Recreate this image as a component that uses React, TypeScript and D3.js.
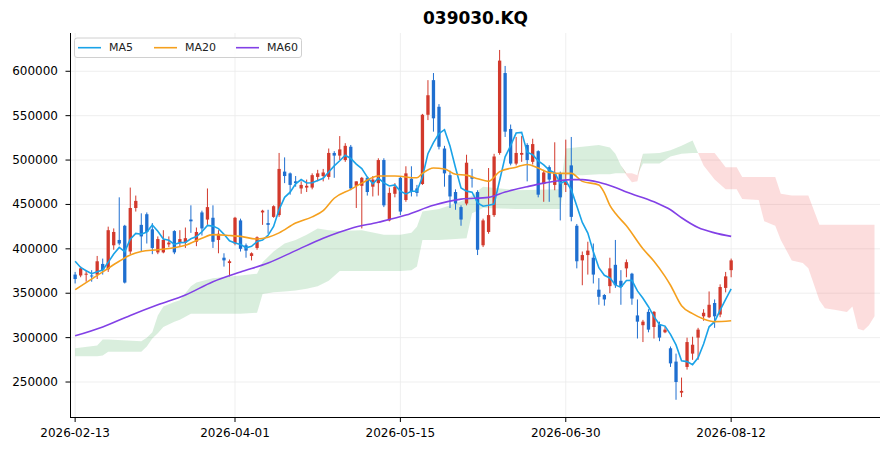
// 039030.KQ 日K线 + 均线 + 一目均衡云
import React, { useRef, useEffect } from 'react';
import * as d3 from 'd3';

const title = '039030.KQ';
const UNIT = 1000;

// x 轴刻度 (交易日序号) 与标签
const tickIndex = [0, 29, 59, 89, 119];
const tickLabels = ['2026-02-13', '2026-04-01', '2026-05-15', '2026-06-30', '2026-08-12'];
const yTicks = [250000, 300000, 350000, 400000, 450000, 500000, 550000, 600000];

// OHLC (单位: 千)
const opens = [
  371, 370, 371, 370, 371, 383, 377, 404, 410, 426,
  397, 446, 427, 439, 422, 396, 396, 405, 420, 407,
  407, 433, 408, 441, 433, 435, 410, 390, 384, 406,
  432, 404, 392, 401, 441, 429, 436, 438, 487, 485,
  476, 468, 469, 469, 481, 482, 481, 508, 505, 500,
  515, 471, 471, 480, 470, 474, 500, 432, 462, 480,
  455, 479, 468, 473, 551, 590, 560, 513, 483, 464,
  447, 451, 481, 464, 404, 419, 438, 508, 598, 535,
  496, 506, 517, 498, 510, 473, 492, 472, 485, 472,
  494, 426, 387, 393, 390, 354, 348, 358, 382, 364,
  378, 372, 325, 314, 329, 312, 315, 306, 288, 273,
  238, 267, 282, 300, 324, 323, 339, 326, 356, 376,
];
const highs = [
  374, 380, 376, 376, 392, 389, 425, 423, 458, 427,
  469, 460, 440, 441, 429, 414, 421, 414, 421, 421,
  424, 449, 424, 443, 468, 449, 421, 395, 388, 436,
  434, 406, 396, 414, 444, 444, 449, 508, 503, 486,
  482, 476, 478, 485, 489, 490, 513, 510, 527, 519,
  517, 476, 481, 481, 482, 502, 502, 469, 474, 481,
  493, 493, 472, 552, 590, 598, 563, 516, 488, 467,
  449, 506, 490, 466, 434, 491, 507, 624, 606, 540,
  526, 527, 519, 524, 511, 489, 494, 520, 487, 523,
  526, 428, 397, 408, 406, 367, 349, 390, 410, 376,
  388, 373, 343, 320, 332, 330, 318, 312, 290, 282,
  255, 300, 301, 311, 332, 352, 343, 360, 374, 389,
];
const lows = [
  361, 368, 363, 363, 366, 371, 374, 399, 404, 361,
  394, 442, 397, 406, 394, 394, 395, 402, 394, 402,
  401, 418, 403, 415, 427, 401, 395, 380, 369, 404,
  397, 390, 387, 399, 427, 417, 435, 436, 474, 461,
  470, 462, 464, 467, 476, 476, 478, 480, 500, 498,
  466, 446, 423, 460, 459, 460, 447, 431, 458, 438,
  453, 459, 459, 472, 545, 532, 512, 470, 446, 444,
  426, 449, 469, 393, 402, 417, 436, 506, 526, 494,
  494, 498, 476, 495, 458, 453, 453, 466, 432, 464,
  431, 378, 359, 371, 361, 337, 336, 350, 356, 337,
  368, 337, 299, 295, 306, 299, 296, 305, 267, 230,
  233, 264, 275, 275, 319, 322, 311, 323, 351, 368,
];
const closes = [
  366, 378, 372, 369, 386, 376, 421, 419, 406, 362,
  446, 454, 414, 419, 401, 411, 410, 407, 396, 411,
  412, 431, 419, 423, 447, 408, 417, 387, 386, 435,
  400, 398, 395, 413, 443, 427, 448, 490, 482, 472,
  474, 472, 471, 483, 485, 486, 508, 505, 512, 516,
  468, 476, 480, 464, 478, 500, 449, 463, 470, 442,
  485, 464, 463, 551, 573, 547, 515, 485, 459, 451,
  433, 497, 479, 399, 432, 438, 504, 612, 532, 496,
  508, 508, 500, 518, 461, 486, 478, 485, 458, 476,
  436, 386, 393, 398, 371, 346, 343, 378, 359, 357,
  385, 344, 318, 318, 309, 329, 300, 309, 271, 250,
  240, 295, 292, 309, 328, 337, 324, 357, 369, 387,
];
// 图表起点之前的 4 个收盘价 (用于 MA5)
const priorCloses = [413, 390, 386, 375];

// MA20 / MA60 读数
const ma20Idx = [0, 5, 8, 10, 12, 15, 20, 23, 25, 28, 30, 33, 35, 37, 40, 43, 45, 47, 50, 52, 55, 58, 62, 63, 65, 67, 69, 71, 73, 75, 77, 80, 82, 84, 86, 88, 90, 92, 95, 96, 97, 98, 100, 103, 105, 107, 108, 110, 112, 114, 116, 119];
const ma20Val = [354, 374, 386, 393, 397, 399, 404, 412, 416, 415, 414, 411, 413, 418, 429, 436, 443, 457, 467, 474, 482, 482, 480, 485, 491, 490, 484, 483, 479, 476, 487, 492, 495, 491, 486, 485, 485, 476, 472, 463, 449, 440, 426, 400, 386, 369, 359, 336, 327, 321, 318, 319];
const ma60Idx = [0, 5, 10, 15, 20, 25, 30, 35, 40, 45, 50, 55, 60, 65, 70, 75, 78, 82, 85, 88, 90, 92, 95, 98, 100, 105, 108, 110, 113, 116, 119];
const ma60Val = [302, 312, 325, 337, 348, 363, 374, 384, 398, 412, 423, 430, 438, 449, 456, 458, 464, 470, 474, 477, 478, 478, 475, 469, 464, 453, 444, 435, 424, 418, 414];

// 云 (先行 A / 先行 B, 已前移 26)
const cloudIdx = [0, 4, 5, 6, 12, 13, 14, 15, 16, 18, 19, 21, 22, 25, 30, 33, 34, 36, 38, 40, 42, 44, 46, 48, 52, 56, 59, 61, 62, 63, 66, 69, 71, 72, 74, 80, 88, 89, 92, 95, 97, 98, 99, 100, 101, 102, 103, 106, 108, 110, 112, 113, 114, 116, 118, 120, 121, 124, 125, 127, 128, 130, 132, 133, 135, 136, 138, 140, 141, 142, 143, 144, 145];
const spanA = [288, 291, 298, 298, 296, 300, 306, 325, 335, 340, 342, 358, 362, 367, 370, 372, 385, 397, 406, 410, 416, 423, 421, 420, 421, 416, 416, 418, 425, 442, 445, 451, 456, 460, 470, 466, 467, 513, 515, 517, 514, 507, 494, 483, 475, 476, 507, 508, 511, 516, 522, 508, 494, 478, 467, 467, 456, 455, 431, 426, 410, 387, 384, 378, 342, 333, 331, 329, 335, 310, 308, 314, 324];
const spanB = [279, 279, 280, 284, 284, 290, 299, 305, 312, 318, 320, 327, 327, 327, 327, 328, 349, 351, 352, 353, 355, 358, 364, 375, 375, 375, 375, 376, 380, 410, 410, 411, 412, 440, 446, 445, 445, 483, 483, 484, 484, 485, 485, 485, 485, 483, 496, 496, 504, 507, 508, 508, 508, 508, 492, 492, 481, 481, 481, 481, 462, 460, 460, 460, 427, 427, 427, 427, 427, 427, 427, 427, 427];

const width = 891;
const height = 451;
const plotLeft = 71;
const plotRight = 880;
const plotTop = 33;
const plotBottom = 417;

const UP = '#d2392c';
const DOWN = '#1f6fd0';
const FONT = 'DejaVu Sans';

const App: React.FC = () => {
  const svgRef = useRef<SVGSVGElement>(null);

  useEffect(() => {
    if (!svgRef.current) return;
    const svg = d3.select(svgRef.current);
    svg.selectAll('*').remove();

    const x = d3.scaleLinear().domain([-0.75, 146]).range([plotLeft, plotRight]);
    const y = d3.scaleLinear().domain([210600, 643100]).range([plotBottom, plotTop]);

    // 网格
    const grid = svg.append('g').attr('stroke', '#ebebeb').attr('stroke-width', 0.8);
    grid.selectAll('.vg').data(tickIndex).join('line')
      .attr('x1', (d) => x(d)).attr('x2', (d) => x(d))
      .attr('y1', plotTop).attr('y2', plotBottom);
    grid.selectAll('.hg').data(yTicks).join('line')
      .attr('x1', plotLeft).attr('x2', plotRight)
      .attr('y1', (d) => y(d)).attr('y2', (d) => y(d));

    // 云
    const cloud = cloudIdx.map((d, k) => ({ i: d, a: spanA[k] * UNIT, b: spanB[k] * UNIT }));
    const greenArea = d3.area<{ i: number; a: number; b: number }>()
      .x((d) => x(d.i))
      .y0((d) => y(d.b))
      .y1((d) => y(Math.max(d.a, d.b)));
    const redArea = d3.area<{ i: number; a: number; b: number }>()
      .x((d) => x(d.i))
      .y0((d) => y(d.a))
      .y1((d) => y(Math.max(d.a, d.b)));
    svg.append('path').attr('d', greenArea(cloud)).attr('fill', 'rgb(46,160,67)').attr('fill-opacity', 0.18);
    svg.append('path').attr('d', redArea(cloud)).attr('fill', 'rgb(239,68,68)').attr('fill-opacity', 0.18);

    // K 线
    const candles = opens.map((o, i) => ({
      i, o: o * UNIT, h: highs[i] * UNIT, l: lows[i] * UNIT, c: closes[i] * UNIT,
    }));
    const bw = (x(1) - x(0)) * 0.6;
    const cg = svg.append('g');
    cg.selectAll('.wick').data(candles).join('line')
      .attr('x1', (d) => x(d.i)).attr('x2', (d) => x(d.i))
      .attr('y1', (d) => y(d.h)).attr('y2', (d) => y(d.l))
      .attr('stroke', (d) => (d.c >= d.o ? UP : DOWN))
      .attr('stroke-width', 1);
    cg.selectAll('.body').data(candles).join('rect')
      .attr('x', (d) => x(d.i) - bw / 2)
      .attr('width', bw)
      .attr('y', (d) => y(Math.max(d.o, d.c)))
      .attr('height', (d) => Math.max(1, Math.abs(y(d.o) - y(d.c))))
      .attr('fill', (d) => (d.c >= d.o ? UP : DOWN));

    // 均线
    const all = priorCloses.concat(closes);
    const ma5 = closes.map((_, i) => ({ i, v: d3.mean(all.slice(i, i + 5))! * UNIT }));
    const ma20 = ma20Idx.map((d, k) => ({ i: d, v: ma20Val[k] * UNIT }));
    const ma60 = ma60Idx.map((d, k) => ({ i: d, v: ma60Val[k] * UNIT }));
    const lin = d3.line<{ i: number; v: number }>().x((d) => x(d.i)).y((d) => y(d.v));
    const smooth = d3.line<{ i: number; v: number }>().x((d) => x(d.i)).y((d) => y(d.v)).curve(d3.curveMonotoneX);
    svg.append('path').attr('d', lin(ma5)).attr('fill', 'none').attr('stroke', '#1aa3e8').attr('stroke-width', 1.6);
    svg.append('path').attr('d', smooth(ma20)).attr('fill', 'none').attr('stroke', '#f5a01e').attr('stroke-width', 1.6);
    svg.append('path').attr('d', smooth(ma60)).attr('fill', 'none').attr('stroke', '#8240e6').attr('stroke-width', 1.6);

    // 坐标轴
    const ax = svg.append('g').attr('font-family', FONT).attr('font-size', 12).attr('fill', '#000');
    ax.append('line').attr('x1', plotLeft - 0.5).attr('x2', plotLeft - 0.5).attr('y1', plotTop).attr('y2', plotBottom)
      .attr('stroke', '#000').attr('stroke-width', 1);
    ax.append('line').attr('x1', plotLeft - 1).attr('x2', plotRight).attr('y1', plotBottom + 0.5).attr('y2', plotBottom + 0.5)
      .attr('stroke', '#000').attr('stroke-width', 1);
    ax.selectAll('.yt').data(yTicks).join('line')
      .attr('x1', plotLeft - 5.5).attr('x2', plotLeft - 0.5)
      .attr('y1', (d) => y(d)).attr('y2', (d) => y(d)).attr('stroke', '#000');
    ax.selectAll('.yl').data(yTicks).join('text')
      .attr('x', plotLeft - 13).attr('y', (d) => y(d))
      .attr('text-anchor', 'end').attr('dominant-baseline', 'central')
      .text((d) => String(d));
    ax.selectAll('.xt').data(tickIndex).join('line')
      .attr('x1', (d) => x(d)).attr('x2', (d) => x(d))
      .attr('y1', plotBottom + 0.5).attr('y2', plotBottom + 5).attr('stroke', '#000');
    ax.selectAll('.xl').data(tickIndex).join('text')
      .attr('x', (d) => x(d)).attr('y', plotBottom + 16)
      .attr('text-anchor', 'middle').attr('dominant-baseline', 'central')
      .text((d, k) => tickLabels[k]);

    // 标题
    svg.append('text').attr('x', (plotLeft + plotRight) / 2).attr('y', 18)
      .attr('text-anchor', 'middle').attr('dominant-baseline', 'central')
      .attr('font-family', FONT).attr('font-weight', 'bold').attr('font-size', 17)
      .text(title);

    // 图例
    const lg = svg.append('g').attr('font-family', FONT).attr('font-size', 11);
    lg.append('rect').attr('x', 74.5).attr('y', 38).attr('width', 227).attr('height', 19.5).attr('rx', 2.5)
      .attr('fill', '#fff').attr('fill-opacity', 0.8).attr('stroke', '#d0d0d0');
    const items = [
      { name: 'MA5', color: '#1aa3e8', x0: 78 },
      { name: 'MA20', color: '#f5a01e', x0: 154 },
      { name: 'MA60', color: '#8240e6', x0: 236 },
    ];
    items.forEach((it) => {
      lg.append('line').attr('x1', it.x0).attr('x2', it.x0 + 23).attr('y1', 47.7).attr('y2', 47.7)
        .attr('stroke', it.color).attr('stroke-width', 1.6);
      lg.append('text').attr('x', it.x0 + 31).attr('y', 47.7).attr('dominant-baseline', 'central')
        .attr('fill', '#222').text(it.name);
    });
  }, []);

  return (
    <svg ref={svgRef} width={width} height={height}
      style={{ position: 'absolute', left: 0, top: 0, background: '#fff' }} />
  );
};

export default App;
